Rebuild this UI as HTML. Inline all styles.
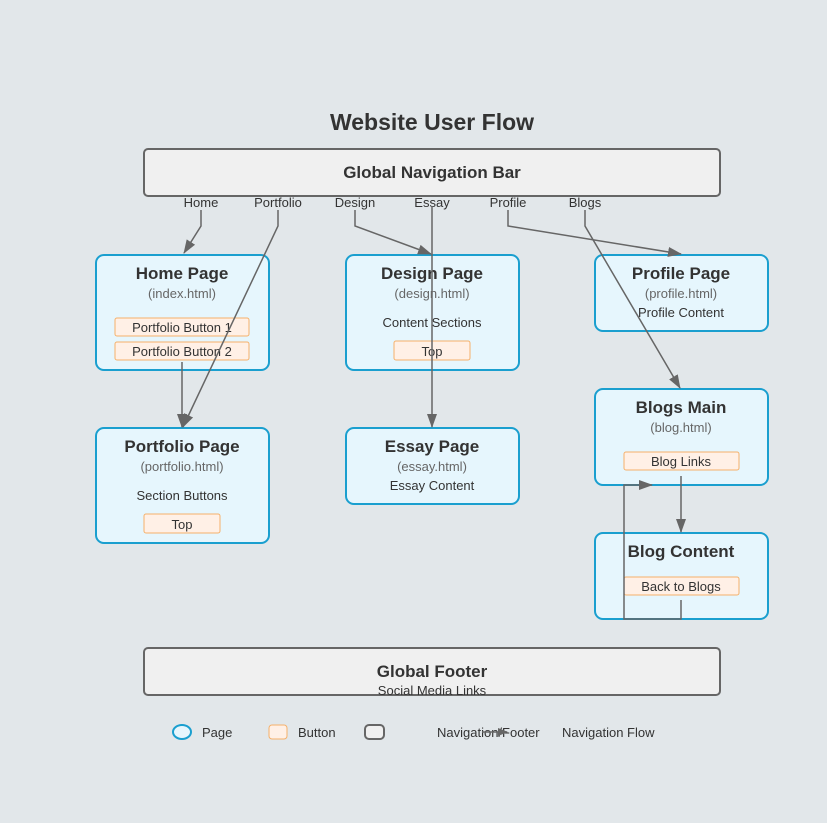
<!DOCTYPE html>
<html><head><meta charset="utf-8"><style>
html,body{margin:0;padding:0;background:#e2e7ea;}
svg{display:block;font-family:"Liberation Sans",Arial,sans-serif;}
.t{font-weight:bold;font-size:17px;fill:#333;text-anchor:middle}
.s{font-size:13px;fill:#666;text-anchor:middle}
.c{font-size:13px;fill:#333;text-anchor:middle}
.pg{fill:#e6f6fd;stroke:#1a9fcf;stroke-width:2}
.bt{fill:#fff0e6;stroke:#f5b06a;stroke-width:1}
.ln{fill:none;stroke:#666;stroke-width:1.5}
</style></head><body>
<svg width="827" height="823" viewBox="0 0 827 823">
<defs><marker id="a" markerWidth="10" markerHeight="8" refX="9" refY="4" orient="auto" markerUnits="userSpaceOnUse"><path d="M0,0L10,4L0,8z" fill="#666"/></marker>
<marker id="b" markerWidth="14" markerHeight="10" refX="13" refY="5" orient="auto" markerUnits="userSpaceOnUse"><path d="M0,0L14,5L0,10z" fill="#666"/></marker></defs>
<rect width="827" height="823" fill="#e2e7ea"/>
<text x="432" y="130" class="t" style="font-size:23px">Website User Flow</text>
<rect x="144" y="149" width="576" height="47" rx="4" fill="#f0f0f0" stroke="#666" stroke-width="2"/>
<text x="432" y="178" class="t">Global Navigation Bar</text>
<g class="c"><text x="201" y="207">Home</text><text x="278" y="207">Portfolio</text><text x="355" y="207">Design</text><text x="432" y="207">Essay</text><text x="508" y="207">Profile</text><text x="585" y="207">Blogs</text></g>

<rect class="pg" x="96" y="255" width="173" height="115" rx="8"/>
<text x="182" y="279" class="t">Home Page</text><text x="182" y="298" class="s">(index.html)</text>
<rect class="bt" x="115" y="318" width="134" height="18" rx="2"/><text x="182" y="332" class="c">Portfolio Button 1</text>
<rect class="bt" x="115" y="342" width="134" height="18" rx="2"/><text x="182" y="356" class="c">Portfolio Button 2</text>

<rect class="pg" x="346" y="255" width="173" height="115" rx="8"/>
<text x="432" y="279" class="t">Design Page</text><text x="432" y="298" class="s">(design.html)</text>
<text x="432" y="327" class="c">Content Sections</text>
<rect class="bt" x="394" y="341" width="76" height="19" rx="2"/><text x="432" y="356" class="c">Top</text>

<rect class="pg" x="595" y="255" width="173" height="76" rx="8"/>
<text x="681" y="279" class="t">Profile Page</text><text x="681" y="298" class="s">(profile.html)</text>
<text x="681" y="317" class="c">Profile Content</text>

<rect class="pg" x="96" y="428" width="173" height="115" rx="8"/>
<text x="182" y="452" class="t">Portfolio Page</text><text x="182" y="471" class="s">(portfolio.html)</text>
<text x="182" y="500" class="c">Section Buttons</text>
<rect class="bt" x="144" y="514" width="76" height="19" rx="2"/><text x="182" y="529" class="c">Top</text>

<rect class="pg" x="346" y="428" width="173" height="76" rx="8"/>
<text x="432" y="452" class="t">Essay Page</text><text x="432" y="471" class="s">(essay.html)</text>
<text x="432" y="490" class="c">Essay Content</text>

<rect class="pg" x="595" y="389" width="173" height="96" rx="8"/>
<text x="681" y="413" class="t">Blogs Main</text><text x="681" y="432" class="s">(blog.html)</text>
<rect class="bt" x="624" y="452" width="115" height="18" rx="2"/><text x="681" y="466" class="c">Blog Links</text>

<rect class="pg" x="595" y="533" width="173" height="86" rx="8"/>
<text x="681" y="557" class="t">Blog Content</text>
<rect class="bt" x="624" y="577" width="115" height="18" rx="2"/><text x="681" y="591" class="c">Back to Blogs</text>

<rect x="144" y="648" width="576" height="47" rx="4" fill="#f0f0f0" stroke="#666" stroke-width="2"/>
<text x="432" y="677" class="t">Global Footer</text>
<text x="432" y="695" class="c">Social Media Links</text>

<g class="ln">
<polyline points="201,210 201,226 184,253" marker-end="url(#b)"/>
<polyline points="278,210 278,226 183,427" marker-end="url(#b)"/>
<polyline points="355,210 355,226 431,254" marker-end="url(#b)"/>
<polyline points="432,206 432,427" marker-end="url(#b)"/>
<polyline points="508,210 508,226 681,254" marker-end="url(#b)"/>
<polyline points="585,210 585,226 680,388" marker-end="url(#b)"/>
<polyline points="182,362 182,427" marker-end="url(#b)"/>
<polyline points="681,476 681,532" marker-end="url(#b)"/>
<polyline points="681,600 681,619 624,619 624,485 652,485" marker-end="url(#b)"/>
</g>

<ellipse cx="182" cy="732" rx="9" ry="7" fill="#e6f6fd" stroke="#1a9fcf" stroke-width="2"/>
<text x="202" y="737" font-size="13" fill="#333">Page</text>
<rect x="269" y="725" width="18" height="14" rx="3" fill="#fff0e6" stroke="#f5b06a"/>
<text x="298" y="737" font-size="13" fill="#333">Button</text>
<rect x="365" y="725" width="19" height="14" rx="4" fill="#f0f0f0" stroke="#666" stroke-width="2"/>
<text x="437" y="737" font-size="13" fill="#333">Navigation/Footer</text>
<line x1="482" y1="732" x2="507" y2="732" stroke="#666" stroke-width="1.5" marker-end="url(#a)"/>
<text x="562" y="737" font-size="13" fill="#333">Navigation Flow</text>
</svg>
</body></html>
